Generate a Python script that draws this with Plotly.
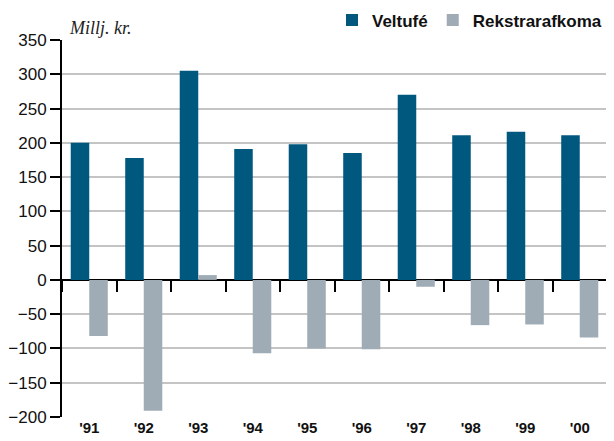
import plotly.graph_objects as go

categories = ["'91", "'92", "'93", "'94", "'95", "'96", "'97", "'98", "'99", "'00"]
veltufe = [200, 178, 305, 191, 198, 185, 270, 211, 216, 211]
rekstrarafkoma = [-82, -191, 7, -107, -100, -101, -10, -66, -65, -84]
y_ticks = [-200, -150, -100, -50, 0, 50, 100, 150, 200, 250, 300, 350]

BLUE = "#00587F"
GRAY = "#A0ACB5"
SANS = "Liberation Sans, Arial, sans-serif"

n = len(categories)
xs = list(range(n))

fig = go.Figure()
fig.add_trace(go.Bar(x=xs, y=veltufe, name="<b>Veltufé</b>", marker=dict(color=BLUE, line=dict(width=0))))
fig.add_trace(go.Bar(x=xs, y=rekstrarafkoma, name="<b>Rekstrarafkoma</b>", marker=dict(color=GRAY, line=dict(width=0))))
# invisible helper trace so the boundary-tick axis is drawn
fig.add_trace(go.Scatter(x=[xs[0]], y=[0], xaxis="x2", mode="markers",
                         marker=dict(opacity=0), showlegend=False, hoverinfo="skip"))

fig.update_layout(
    width=614, height=441,
    margin=dict(l=54, r=15, t=32, b=32, autoexpand=False),
    paper_bgcolor="white", plot_bgcolor="white",
    barmode="group", bargap=0.32, bargroupgap=0,
    font=dict(family=SANS, color="black"),
    showlegend=True,
    legend=dict(orientation="h", x=1.0, xanchor="right", y=1.052, yanchor="middle",
                font=dict(family=SANS, size=17, color="#111"),
                itemwidth=30, tracegroupgap=0, bgcolor="rgba(0,0,0,0)"),
    xaxis=dict(
        range=[-0.5, n - 0.5], tickmode="array", tickvals=xs,
        ticktext=["<b>%s</b>" % c for c in categories],
        showgrid=False, zeroline=False, showline=False,
        ticks="",
        tickfont=dict(family=SANS, size=15, color="#111"),
        automargin=False,
    ),
    xaxis2=dict(
        overlaying="x", anchor="free", position=200 / 550, side="bottom",
        range=[-0.5, n - 0.5], tickmode="array",
        tickvals=[i - 0.5 for i in range(n + 1)], showticklabels=False,
        ticks="outside", ticklen=11, tickwidth=2, tickcolor="black",
        showgrid=False, zeroline=False, showline=False, automargin=False,
    ),
    yaxis=dict(
        range=[-200, 350], tickmode="array", tickvals=y_ticks,
        showgrid=True, gridcolor="#C4C4C4", gridwidth=2,
        zeroline=True, zerolinecolor="black", zerolinewidth=2,
        showline=True, linecolor="black", linewidth=2,
        ticks="outside", ticklen=10, tickwidth=2, tickcolor="black",
        tickfont=dict(family=SANS, size=17, color="#111"),
        automargin=False,
    ),
    annotations=[dict(
        text="<i>Millj. kr.</i>", xref="paper", yref="paper", x=0.01, y=1.0,
        xanchor="left", yanchor="bottom", yshift=0, showarrow=False,
        font=dict(family="Liberation Serif, Times New Roman, serif", size=18, color="#222"),
    )],
)

fig.write_html("out.html")
